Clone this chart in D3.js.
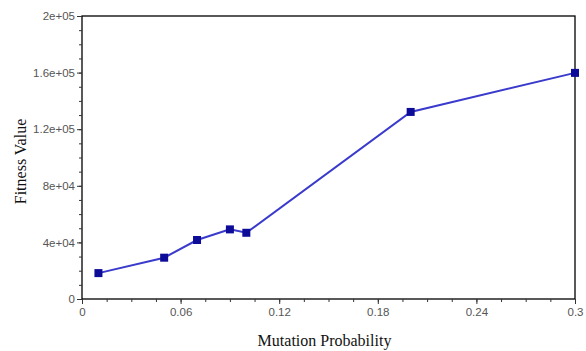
<!DOCTYPE html>
<html><head><meta charset="utf-8">
<script src="https://cdn.jsdelivr.net/npm/d3@7"></script>
<style>body{margin:0;background:#fff}svg{display:block}</style>
</head><body><svg id="c" width="586" height="351"></svg>
<script>
const xValues = [0.01, 0.05, 0.07, 0.09, 0.1, 0.2, 0.3];
const fitnessValues = [18300, 29200, 41700, 49200, 46800, 132200, 159800];
const xTickValues = [0, 0.06, 0.12, 0.18, 0.24, 0.3];
const xTickLabels = ["0", "0.06", "0.12", "0.18", "0.24", "0.3"];
const yTickValues = [0, 40000, 80000, 120000, 160000, 200000];
const yTickLabels = ["0", "4e+04", "8e+04", "1.2e+05", "1.6e+05", "2e+05"];
const xTitle = "Mutation Probability";
const yTitle = "Fitness Value";

const svg = d3.select("#c");
const L = 82, R = 575, T = 16, B = 299;
const x = d3.scaleLinear().domain([0, 0.3]).range([L, R]);
const y = d3.scaleLinear().domain([0, 200000]).range([B, T]);

// frame
svg.append("rect").attr("x", L).attr("y", T).attr("width", R - L).attr("height", B - T)
  .attr("fill", "none").attr("stroke", "#000").attr("stroke-width", 1.3);

// minor ticks
const xMinor = d3.range(0, 0.3001, 0.015);
const yMinor = d3.range(0, 200001, 10000);
const xMinAx = svg.append("g").attr("transform", `translate(0,${B})`)
  .call(d3.axisBottom(x).tickValues(xMinor).tickSize(3).tickFormat(""));
xMinAx.select(".domain").remove();
const yMinAx = svg.append("g").attr("transform", `translate(${L},0)`)
  .call(d3.axisLeft(y).tickValues(yMinor).tickSize(3).tickFormat(""));
yMinAx.select(".domain").remove();

// major axes
const xAx = svg.append("g").attr("transform", `translate(0,${B})`)
  .call(d3.axisBottom(x).tickValues(xTickValues).tickSize(5).tickPadding(4)
    .tickFormat((d, i) => xTickLabels[i]));
const yAx = svg.append("g").attr("transform", `translate(${L},0)`)
  .call(d3.axisLeft(y).tickValues(yTickValues).tickSize(5).tickPadding(2)
    .tickFormat((d, i) => yTickLabels[i]));
[xAx, yAx].forEach(g => {
  g.select(".domain").remove();
  g.selectAll("text").attr("fill", "#555").style("font-family", "Liberation Sans, Arial, sans-serif").style("font-size", "11.5px");
});
svg.selectAll(".tick line").attr("stroke", "#333");

// line
const line = d3.line().x((d, i) => x(xValues[i])).y(d => y(d));
svg.append("path").datum(fitnessValues).attr("d", line)
  .attr("fill", "none").attr("stroke", "#3a3acc").attr("stroke-width", 2);
svg.selectAll("rect.pt").data(fitnessValues).enter().append("rect").attr("class", "pt")
  .attr("x", (d, i) => x(xValues[i]) - 4).attr("y", d => y(d) - 4)
  .attr("width", 8).attr("height", 8).attr("fill", "#0c0c99");

// titles
svg.append("text").attr("x", (L + R) / 2 - 4).attr("y", 346).attr("text-anchor", "middle")
  .style("font-family", "Liberation Serif, Times New Roman, serif").style("font-size", "16px")
  .attr("fill", "#111").text(xTitle);
svg.append("text").attr("transform", `translate(26,${(T + B) / 2 + 4}) rotate(-90)`).attr("text-anchor", "middle")
  .style("font-family", "Liberation Serif, Times New Roman, serif").style("font-size", "16px")
  .attr("fill", "#111").text(yTitle);
</script></body></html>
